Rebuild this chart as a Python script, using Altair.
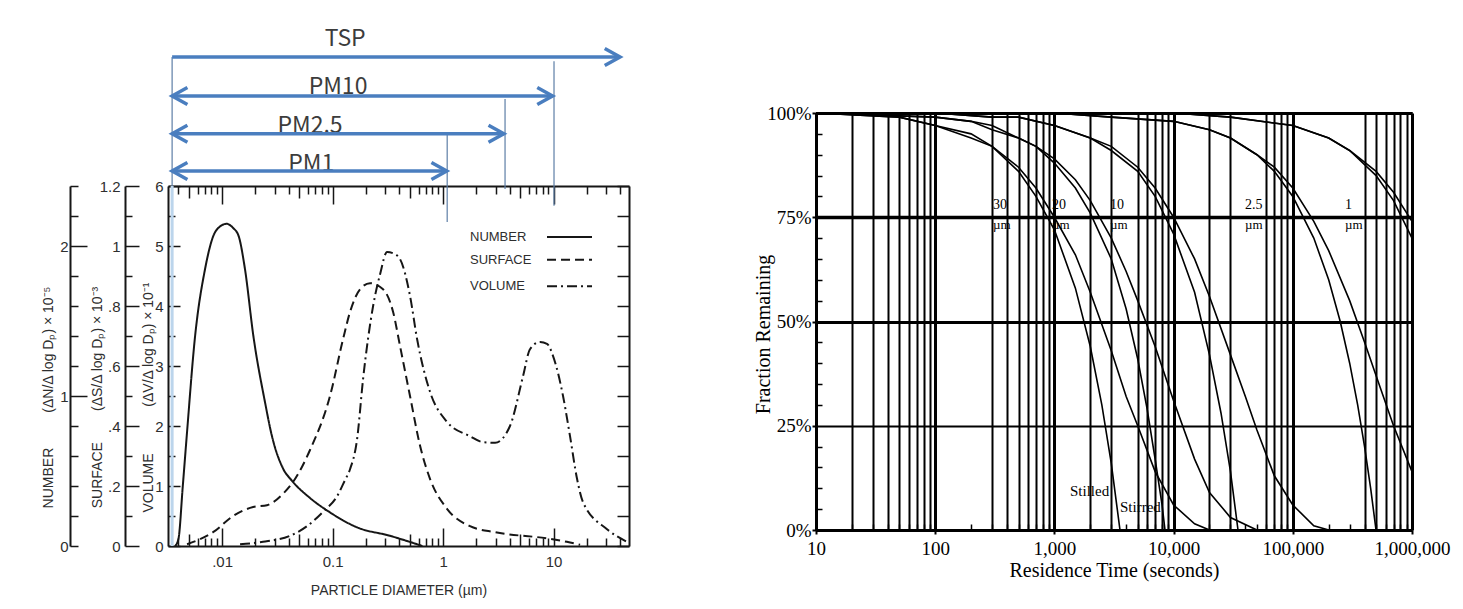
import altair as alt
import pandas as pd

# ---------------- styling ----------------
INK = "#161616"
TEXT = "#2e2e2e"
BLUE = "#4a7ebf"
BLUE_THIN = "#5d7ea6"
BLUE_FAINT = "#bcd5ec"
SANS = "Liberation Sans"
SERIF = "Liberation Serif"
ARROW_FONT = "Noto Sans CJK KR"
NB = "\u00a0"

# =============== LEFT PANEL DATA ===============
SERIES = ["NUMBER", "SURFACE", "VOLUME"]

NUMBER_D = [0.00376, 0.00403, 0.00441, 0.00479, 0.00570, 0.00702, 0.00834, 0.00950, 0.0110,
            0.0126, 0.0141, 0.0161, 0.0192, 0.0245, 0.0282, 0.0359, 0.0428, 0.0625, 0.0948,
            0.167, 0.331, 0.537, 0.65]
NUMBER_V = [0.0, 0.12, 1.0, 1.84, 3.5, 4.62, 5.17, 5.32, 5.37,
            5.3, 5.17, 4.62, 3.5, 2.39, 1.84, 1.28, 1.09, 0.80, 0.56,
            0.31, 0.17, 0.05, 0.0]

SURFACE_D = [0.00482, 0.00829, 0.0126, 0.0191, 0.0255, 0.0356, 0.0440, 0.0625, 0.0948, 0.1245,
             0.1439, 0.1774, 0.2183, 0.2864, 0.3532, 0.4083, 0.5023, 0.6194, 0.7621, 1.086,
             1.754, 2.96, 9.29, 13.2, 17.4]
SURFACE_V = [0.03, 0.23, 0.5, 0.65, 0.68, 0.87, 1.07, 1.6, 2.5, 3.45,
             3.9, 4.28, 4.38, 4.28, 3.9, 3.33, 2.5, 1.67, 1.12, 0.62,
             0.33, 0.23, 0.12, 0.07, 0.02]

VOLUME_D = [0.01455, 0.0235, 0.0412, 0.0587, 0.0820, 0.1099, 0.1297, 0.1439, 0.1667, 0.1888,
            0.2328, 0.2692, 0.3112, 0.3532, 0.4083, 0.5023, 0.5821, 0.7621, 1.086, 1.754,
            2.301, 2.958, 4.036, 5.297, 6.124, 7.551, 8.735, 9.886, 12.19, 14.10,
            16.32, 18.50, 30.48, 46.21]
VOLUME_V = [0.03, 0.07, 0.17, 0.33, 0.57, 0.83, 1.1, 1.28, 1.78, 2.78,
            4.0, 4.53, 4.9, 4.88, 4.78, 4.17, 3.45, 2.57, 2.07, 1.83,
            1.73, 1.72, 2.0, 2.83, 3.28, 3.4, 3.37, 3.17, 2.5, 1.83,
            1.12, 0.73, 0.28, 0.07]

# in-plot key (x in um, level in volume-axis units)
LEGEND_LABEL_X = [1.754, 1.754, 1.754]
LEGEND_LINE_X1 = [8.73, 8.73, 8.73]
LEGEND_LINE_X2 = [22.3, 22.3, 22.3]
LEGEND_LEVEL = [5.15, 4.77, 4.33]

# size-class arrows drawn over the figure (x in um, level in volume-axis units)
ARROW_NAMES = ["TSP", "PM10", "PM2.5", "PM1"]
ARROW_START = [0.00353, 0.00353, 0.00353, 0.00353]
ARROW_END = [40.0, 9.8, 3.55, 1.08]
ARROW_LEVEL = [8.15, 7.5, 6.87, 6.25]
ARROW_TWO_HEADS = [False, True, True, True]
ARROW_TEXT_X = [0.13, 0.112, 0.0625, 0.064]
ARROW_TEXT_LEVEL = [8.45, 7.65, 7.0, 6.37]
CUTOFF_X = [0.00353, 10.1, 3.64, 1.09]
CUTOFF_TOP = [8.15, 8.08, 7.45, 6.87]
CUTOFF_BOTTOM = [6.0, 5.67, 5.95, 5.4]
FAINT_X = [0.00353]
FAINT_TOP = [6.0]
FAINT_BOTTOM = [0.0]

X_TICK_VALUES_L = [0.01, 0.1, 1, 10]
X_TICK_LABELS_L = [".01", "0.1", "1", "10"]
LOG_TICKS_L = [0.004, 0.005, 0.006, 0.007, 0.008, 0.009,
               0.01, 0.02, 0.03, 0.04, 0.05, 0.06, 0.07, 0.08, 0.09,
               0.1, 0.2, 0.3, 0.4, 0.5, 0.6, 0.7, 0.8, 0.9,
               1, 2, 3, 4, 5, 6, 7, 8, 9,
               10, 20, 30, 40]
HALF_STEPS = [0, 0.5, 1, 1.5, 2, 2.5, 3, 3.5, 4, 4.5, 5, 5.5, 6]
VOLUME_TICK_AT = [0, 1, 2, 3, 4, 5, 6]
VOLUME_TICK_LABELS = ["0", "1", "2", "3", "4", "5", "6"]
SURFACE_TICK_AT = [0, 1, 2, 3, 4, 5, 6]
SURFACE_TICK_LABELS = ["0", ".2", ".4", ".6", ".8", "1", "1.2"]
NUMBER_TICK_AT = [0, 2.5, 5]
NUMBER_TICK_LABELS = ["0", "1", "2"]

# =============== RIGHT PANEL DATA ===============
T30_STILL = [10, 50, 100, 200, 300, 500, 700, 1000, 1500, 2000, 2500, 3000, 3550]
F30_STILL = [1.0, 0.99, 0.97, 0.94, 0.92, 0.86, 0.80, 0.72, 0.58, 0.44, 0.30, 0.16, 0.0]
T30_STIR = [10, 50, 100, 200, 300, 500, 700, 1000, 1500, 2000, 3000, 4000, 5000, 7000, 10000, 15000, 20000]
F30_STIR = [1.0, 0.99, 0.97, 0.95, 0.92, 0.87, 0.82, 0.75, 0.66, 0.57, 0.43, 0.32, 0.25, 0.14, 0.06, 0.015, 0.0]

T20_STILL = [10, 100, 200, 300, 500, 700, 1000, 1500, 2000, 3000, 4000, 5000, 6000, 7000, 8000, 8470]
F20_STILL = [1.0, 0.99, 0.98, 0.96, 0.94, 0.92, 0.88, 0.82, 0.76, 0.65, 0.53, 0.41, 0.29, 0.17, 0.06, 0.0]
T20_STIR = [10, 100, 200, 300, 500, 700, 1000, 1500, 2000, 3000, 4000, 5000, 7000, 10000, 15000, 20000, 30000, 50000]
F20_STIR = [1.0, 0.99, 0.98, 0.97, 0.94, 0.92, 0.89, 0.84, 0.79, 0.70, 0.62, 0.55, 0.44, 0.31, 0.17, 0.09, 0.03, 0.0]

T10_STILL = [10, 100, 300, 500, 1000, 2000, 3000, 5000, 7000, 10000, 15000, 20000, 25000, 30000, 34700]
F10_STILL = [1.0, 1.0, 0.99, 0.99, 0.97, 0.94, 0.91, 0.86, 0.80, 0.71, 0.57, 0.42, 0.28, 0.14, 0.0]
T10_STIR = [10, 100, 300, 500, 1000, 2000, 3000, 5000, 7000, 10000, 15000, 20000, 30000, 40000, 50000,
            70000, 100000, 150000, 200000]
F10_STIR = [1.0, 1.0, 0.99, 0.99, 0.97, 0.94, 0.92, 0.87, 0.82, 0.75, 0.65, 0.56, 0.42, 0.32, 0.24,
            0.13, 0.06, 0.01, 0.0]

T25_STILL = [10, 1000, 3000, 10000, 20000, 30000, 50000, 70000, 100000, 150000, 200000, 250000,
             300000, 350000, 400000, 450000, 499000]
F25_STILL = [1.0, 1.0, 0.99, 0.98, 0.96, 0.94, 0.90, 0.86, 0.80, 0.70, 0.60, 0.50,
             0.40, 0.30, 0.20, 0.10, 0.0]
T25_STIR = [10, 1000, 3000, 10000, 20000, 30000, 50000, 70000, 100000, 150000, 200000, 300000,
            400000, 500000, 700000, 1000000]
F25_STIR = [1.0, 1.0, 0.99, 0.98, 0.96, 0.94, 0.90, 0.87, 0.82, 0.74, 0.67, 0.55,
            0.45, 0.37, 0.25, 0.14]

T1_STILL = [10, 10000, 30000, 100000, 200000, 300000, 500000, 700000, 1000000]
F1_STILL = [1.0, 1.0, 0.99, 0.97, 0.94, 0.91, 0.85, 0.79, 0.70]
T1_STIR = [10, 10000, 30000, 100000, 200000, 300000, 500000, 700000, 1000000]
F1_STIR = [1.0, 1.0, 0.99, 0.97, 0.94, 0.91, 0.86, 0.81, 0.74]

SIZE_TEXT = ["30", "20", "10", "2.5", "1"]
SIZE_T = [305, 955, 2925, 39700, 274000]
SIZE_NUM_F = [0.779, 0.779, 0.779, 0.779, 0.779]
SIZE_UNIT_F = [0.731, 0.731, 0.731, 0.731, 0.731]
MODE_TEXT = ["Stilled", "Stirred"]
MODE_T = [1352, 3550]
MODE_F = [0.094, 0.055]

DECADES_R = [10, 100, 1000, 10000, 100000, 1000000]
GRID_T = [20, 30, 40, 50, 60, 70, 80, 90, 100,
          300, 400, 500, 600, 700, 800, 900, 1000,
          2000, 3000, 5000, 6000, 7000, 8000, 9000, 10000,
          20000, 30000, 60000, 70000, 80000, 90000, 100000,
          400000, 500000, 600000, 700000, 800000, 900000]
MINOR_T = [20, 30, 40, 50, 60, 70, 80, 90,
           200, 300, 400, 500, 600, 700, 800, 900,
           2000, 3000, 4000, 5000, 6000, 7000, 8000, 9000,
           20000, 30000, 40000, 50000, 60000, 70000, 80000, 90000,
           200000, 300000, 400000, 500000, 600000, 700000, 800000, 900000]
Y_MAJOR_R = [0, 0.25, 0.5, 0.75, 1]
Y_MINOR_R = [0.05, 0.1, 0.15, 0.2, 0.3, 0.35, 0.4, 0.45, 0.55, 0.6, 0.65, 0.7, 0.8, 0.85, 0.9, 0.95]

# ---------------- helpers ----------------
def label_expr(values, labels):
    expr = "''"
    for v, lab in reversed(list(zip(values, labels))):
        expr = f"abs(datum.value - {v}) < 1e-9 ? '{lab}' : ({expr})"
    return expr


def cond(test, a, b):
    return {"condition": {"test": test, "value": a}, "value": b}


DEC_TEST = "abs(log(datum.value)/LN10 - round(log(datum.value)/LN10)) < 0.001"
FIVE_TEST = "abs(log(datum.value/5)/LN10 - round(log(datum.value/5)/LN10)) < 0.001"
LOG_TICK_SIZE = {"condition": [{"test": DEC_TEST, "value": 18}, {"test": FIVE_TEST, "value": 12}], "value": 8}
DASH_SCALE = alt.Scale(domain=SERIES, range=[[1, 0], [9, 5], [10, 4, 2, 4]])

# ---------------- left panel geometry ----------------
WL, HL = 461, 512
XS_L = alt.Scale(type="log", domain=[0.00324, 48.2], nice=False)
YS_L = alt.Scale(domain=[0, 6], range=[HL, HL - 360], nice=False, zero=False)

curves_df = pd.concat([
    pd.DataFrame({"series": "NUMBER", "d": NUMBER_D, "v": NUMBER_V}),
    pd.DataFrame({"series": "SURFACE", "d": SURFACE_D, "v": SURFACE_V}),
    pd.DataFrame({"series": "VOLUME", "d": VOLUME_D, "v": VOLUME_V}),
], ignore_index=True)
key_df = pd.DataFrame({"series": SERIES, "lx": LEGEND_LABEL_X, "x1": LEGEND_LINE_X1,
                       "x2": LEGEND_LINE_X2, "level": LEGEND_LEVEL})

arrows_df = pd.DataFrame({"name": ARROW_NAMES, "start": ARROW_START, "end": ARROW_END,
                          "level": ARROW_LEVEL, "tx": ARROW_TEXT_X, "tl": ARROW_TEXT_LEVEL})
heads_rows = []
for s, e, lv, two in zip(ARROW_START, ARROW_END, ARROW_LEVEL, ARROW_TWO_HEADS):
    heads_rows.append({"x": e, "level": lv, "dir": "right"})
    if two:
        heads_rows.append({"x": s, "level": lv, "dir": "left"})
heads_df = pd.DataFrame(heads_rows)
cut_df = pd.DataFrame({"x": CUTOFF_X, "top": CUTOFF_TOP, "bottom": CUTOFF_BOTTOM})
faint_df = pd.DataFrame({"x": FAINT_X, "top": FAINT_TOP, "bottom": FAINT_BOTTOM})

common_title = dict(titleFont=SANS, titleFontSize=14, titleFontWeight="normal", titleColor=TEXT,
                    titleAngle=270, titleAlign="center", titleBaseline="middle", titleY=363)
common_y = dict(orient="right", values=HALF_STEPS, labelAlign="right", labelBaseline="middle",
                labelFont=SANS, labelFontSize=15, labelColor=TEXT, labelFlush=False, labelOverlap=False,
                tickColor=INK, tickWidth=1.5, domain=True, domainColor=INK, domainWidth=2, grid=False)

AX_L_BOTTOM = alt.Axis(orient="bottom", values=X_TICK_VALUES_L,
                       labelExpr=label_expr(X_TICK_VALUES_L, X_TICK_LABELS_L),
                       ticks=False, domain=True, domainColor=INK, domainWidth=2,
                       labelFont=SANS, labelFontSize=15, labelColor=TEXT, labelPadding=8,
                       labelFlush=False, labelOverlap=False, grid=False,
                       title="PARTICLE DIAMETER (µm)", titleFont=SANS, titleFontSize=14,
                       titleFontWeight="normal", titleColor=TEXT, titlePadding=14)
AX_L_TICKS_BOTTOM = alt.Axis(orient="top", offset=-HL, values=LOG_TICKS_L, ticks=True,
                             tickSize=LOG_TICK_SIZE, tickColor=INK, tickWidth=1.5,
                             labels=False, domain=False, grid=False, title=None)
AX_L_TOP = alt.Axis(orient="bottom", offset=-360, values=LOG_TICKS_L, ticks=True,
                    tickSize=LOG_TICK_SIZE, tickColor=INK, tickWidth=1.5, labels=False,
                    domain=True, domainColor=INK, domainWidth=2, grid=False, title=None)
AX_L_VOLUME = alt.Axis(offset=-WL, labelExpr=label_expr(VOLUME_TICK_AT, VOLUME_TICK_LABELS),
                       labelPadding=-17, tickSize=cond("datum.value % 1 == 0", 12, 7),
                       title="VOLUME" + NB * 12 + "(ΔV/Δ log Dₚ) × 10⁻¹", titleX=-20,
                       **common_y, **common_title)
AX_L_SURFACE = alt.Axis(offset=-(WL + 43), labelExpr=label_expr(SURFACE_TICK_AT, SURFACE_TICK_LABELS),
                        labelPadding=-19, tickSize=cond("datum.value % 1 == 0", 14, 7),
                        title="SURFACE" + NB * 8 + "(ΔS/Δ log Dₚ) × 10⁻³", titleX=-28,
                        **common_y, **common_title)
AX_L_NUMBER = alt.Axis(offset=-(WL + 98), labelExpr=label_expr(NUMBER_TICK_AT, NUMBER_TICK_LABELS),
                       labelPadding=cond("datum.value == 0", -10, -19),
                       tickSize=cond("datum.value == 2.5 || datum.value == 5", 17, 8),
                       title="NUMBER" + NB * 9 + "(ΔN/Δ log Dₚ) × 10⁻⁵", titleX=-22,
                       **common_y, **common_title)
AX_L_RIGHT = alt.Axis(orient="left", offset=-WL, values=HALF_STEPS, ticks=True, tickSize=12,
                      tickColor=INK, tickWidth=1.5, labels=False, domain=True, domainColor=INK,
                      domainWidth=2, grid=False, title=None)

P_RIGHT = "M -1.8 -1 L 0 0 L -1.8 1"
P_LEFT = "M 1.8 -1 L 0 0 L 1.8 1"

faint_L = alt.Chart(faint_df).mark_rule(color=BLUE_FAINT, strokeWidth=3).encode(
    x=alt.X("x:Q", scale=XS_L, axis=None),
    y=alt.Y("top:Q", scale=YS_L, axis=None), y2="bottom:Q")
cut_L = alt.Chart(cut_df).mark_rule(color=BLUE_THIN, strokeWidth=1.2).encode(
    x=alt.X("x:Q", scale=XS_L, axis=None),
    y=alt.Y("top:Q", scale=YS_L, axis=None), y2="bottom:Q")
curves_L = alt.Chart(curves_df).mark_line(interpolate="monotone", strokeWidth=2, color=INK).encode(
    x=alt.X("d:Q", scale=XS_L, axis=AX_L_BOTTOM),
    y=alt.Y("v:Q", scale=YS_L, axis=AX_L_VOLUME),
    strokeDash=alt.StrokeDash("series:N", scale=DASH_SCALE, legend=None))
key_lines_L = alt.Chart(key_df).mark_rule(strokeWidth=2, color=INK).encode(
    x=alt.X("x1:Q", scale=XS_L, axis=None), x2="x2:Q",
    y=alt.Y("level:Q", scale=YS_L, axis=None),
    strokeDash=alt.StrokeDash("series:N", scale=DASH_SCALE, legend=None))
key_text_L = alt.Chart(key_df).mark_text(font=SANS, fontSize=13, color=TEXT, align="left",
                                          baseline="middle").encode(
    x=alt.X("lx:Q", scale=XS_L, axis=None),
    y=alt.Y("level:Q", scale=YS_L, axis=None), text="series:N")
text_L = alt.Chart(arrows_df).mark_text(font=ARROW_FONT, fontSize=23, color="#3c3c3c",
                                         align="center", baseline="middle").encode(
    x=alt.X("tx:Q", scale=XS_L, axis=AX_L_TICKS_BOTTOM),
    y=alt.Y("tl:Q", scale=YS_L, axis=AX_L_NUMBER),
    text="name:N")
rules_L = alt.Chart(arrows_df).mark_rule(color=BLUE, strokeWidth=3.5).encode(
    x=alt.X("start:Q", scale=XS_L, axis=AX_L_TOP), x2="end:Q",
    y=alt.Y("level:Q", scale=YS_L, axis=AX_L_SURFACE))
heads_L = alt.Chart(heads_df).mark_point(filled=False, color=BLUE, strokeWidth=3.5, size=289,
                                         opacity=1).encode(
    x=alt.X("x:Q", scale=XS_L, axis=None),
    y=alt.Y("level:Q", scale=YS_L, axis=AX_L_RIGHT),
    shape=alt.Shape("dir:N", scale=alt.Scale(domain=["right", "left"], range=[P_RIGHT, P_LEFT]),
                    legend=None))

left = alt.layer(faint_L, cut_L, curves_L, key_lines_L, key_text_L, text_L, rules_L, heads_L).resolve_axis(
    x="independent", y="independent").properties(width=WL, height=HL)

# ---------------- right panel ----------------
WR, HR = 596, 496
TOP_R = 79
XS_R = alt.Scale(type="log", domain=[10, 1000000], nice=False)
YS_R = alt.Scale(domain=[0, 1], range=[HR, TOP_R], nice=False, zero=False)

rows = []
for name, ts, fs in [("30 stilled", T30_STILL, F30_STILL), ("30 stirred", T30_STIR, F30_STIR),
                     ("20 stilled", T20_STILL, F20_STILL), ("20 stirred", T20_STIR, F20_STIR),
                     ("10 stilled", T10_STILL, F10_STILL), ("10 stirred", T10_STIR, F10_STIR),
                     ("2.5 stilled", T25_STILL, F25_STILL), ("2.5 stirred", T25_STIR, F25_STIR),
                     ("1 stilled", T1_STILL, F1_STILL), ("1 stirred", T1_STIR, F1_STIR)]:
    assert len(ts) == len(fs), name
    rows.append(pd.DataFrame({"curve": name, "t": ts, "f": fs}))
curves_r_df = pd.concat(rows, ignore_index=True)
size_df = pd.DataFrame({"label": SIZE_TEXT, "t": SIZE_T, "f": SIZE_NUM_F})
unit_df = pd.DataFrame({"label": ["µm"] * len(SIZE_T), "t": SIZE_T, "f": SIZE_UNIT_F})
mode_df = pd.DataFrame({"label": MODE_TEXT, "t": MODE_T, "f": MODE_F})

AX_R_X_MAIN = alt.Axis(orient="bottom", values=DECADES_R, format=",", labelFont=SERIF,
                       labelFontSize=19, labelColor="black", labelPadding=5, labelFlush=False,
                       labelOverlap=False, tickSize=4, tickColor="black", tickWidth=2,
                       domain=True, domainColor="black", domainWidth=3, grid=False,
                       title="Residence Time (seconds)", titleFont=SERIF, titleFontSize=20,
                       titleFontWeight="normal", titleColor="black", titlePadding=2)
# grid axis on the top side so that grid lines follow the y range (79..496)
AX_R_X_GRID = alt.Axis(orient="top", values=GRID_T, grid=True, gridColor="black",
                       gridWidth=cond(DEC_TEST, 3, 2), gridOpacity=1, ticks=False, labels=False,
                       domain=False, title=None)
AX_R_X_TOP = alt.Axis(orient="bottom", offset=-(HR - TOP_R), domain=True, domainColor="black",
                      domainWidth=3, ticks=False, labels=False, grid=False, title=None)
AX_R_X_MINOR = alt.Axis(orient="top", offset=-HR, values=MINOR_T, ticks=True, tickSize=6,
                        tickColor="black", tickWidth=1.5, labels=False, domain=False, grid=False,
                        title=None)
AX_R_Y_MAIN = alt.Axis(orient="left", values=Y_MAJOR_R, format=".0%", labelFont=SERIF,
                       labelFontSize=19, labelColor="black", labelPadding=1, labelFlush=False,
                       labelOverlap=False, tickSize=4, tickColor="black", tickWidth=2,
                       domain=True, domainColor="black", domainWidth=3,
                       grid=True, gridColor="black", gridOpacity=1,
                       gridWidth={"condition": [{"test": "datum.value == 0.75", "value": 3.5},
                                                {"test": "datum.value == 0.25", "value": 2}],
                                  "value": 3},
                       title="Fraction Remaining", titleFont=SERIF, titleFontSize=20,
                       titleFontWeight="normal", titleColor="black", titleAngle=270,
                       titleX=-53, titleY=300, titleAlign="center", titleBaseline="middle")
AX_R_Y_RIGHT = alt.Axis(orient="left", offset=-WR, domain=True, domainColor="black", domainWidth=3,
                        ticks=False, labels=False, grid=False, title=None)
AX_R_Y_MINOR = alt.Axis(orient="right", offset=-WR, values=Y_MINOR_R, ticks=True, tickSize=6,
                        tickColor="black", tickWidth=1.5, labels=False, domain=False, grid=False,
                        title=None)

curves_R = alt.Chart(curves_r_df).mark_line(color="black", strokeWidth=1.6).encode(
    x=alt.X("t:Q", scale=XS_R, axis=AX_R_X_MAIN),
    y=alt.Y("f:Q", scale=YS_R, axis=AX_R_Y_MAIN),
    detail="curve:N")
sizes_R = alt.Chart(size_df).mark_text(font=SERIF, fontSize=14, color="black", align="left",
                                        baseline="middle").encode(
    x=alt.X("t:Q", scale=XS_R, axis=AX_R_X_GRID),
    y=alt.Y("f:Q", scale=YS_R, axis=AX_R_Y_RIGHT), text="label:N")
units_R = alt.Chart(unit_df).mark_text(font=SERIF, fontSize=13, color="black", align="left",
                                        baseline="middle").encode(
    x=alt.X("t:Q", scale=XS_R, axis=AX_R_X_TOP),
    y=alt.Y("f:Q", scale=YS_R, axis=AX_R_Y_MINOR), text="label:N")
modes_R = alt.Chart(mode_df).mark_text(font=SERIF, fontSize=15, color="black", align="left",
                                        baseline="middle").encode(
    x=alt.X("t:Q", scale=XS_R, axis=AX_R_X_MINOR),
    y=alt.Y("f:Q", scale=YS_R, axis=None), text="label:N")

right = alt.layer(curves_R, sizes_R, units_R, modes_R).resolve_axis(
    x="independent", y="independent").properties(width=WR, height=HR)

chart = alt.hconcat(left, right, spacing=187, bounds="flush").properties(
    padding={"left": 41, "top": 28, "right": 5, "bottom": 5},
    background="white",
).configure_view(strokeWidth=0)

chart.save("out.html", embed_options={"renderer": "svg", "actions": False})
